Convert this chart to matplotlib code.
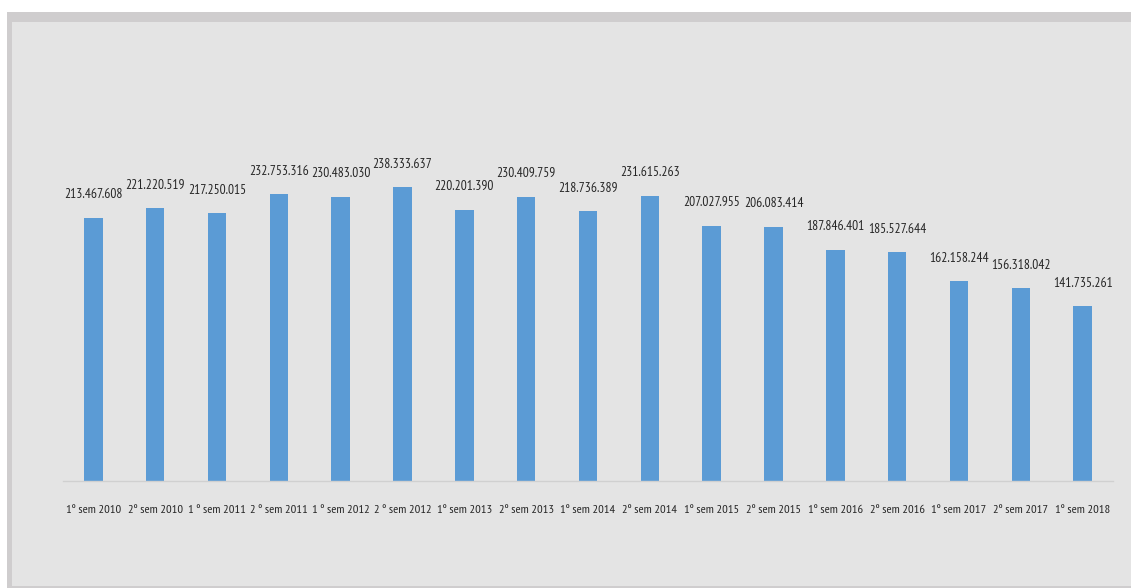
import matplotlib
matplotlib.use('Agg')
import matplotlib.pyplot as plt
from matplotlib import font_manager
from matplotlib.font_manager import FontProperties
from matplotlib.patches import Rectangle
from matplotlib.textpath import TextPath

semesters = ['1º sem 2010', '2º sem 2010', '1 º sem 2011', '2 º sem 2011', '1 º sem 2012',
             '2 º sem 2012', '1º sem 2013', '2º sem 2013', '1º sem 2014', '2º sem 2014',
             '1º sem 2015', '2º sem 2015', '1º sem 2016', '2º sem 2016', '1º sem 2017',
             '2º sem 2017', '1º sem 2018']
values = [213467608, 221220519, 217250015, 232753316, 230483030, 238333637, 220201390,
          230409759, 218736389, 231615263, 207027955, 206083414, 187846401, 185527644,
          162158244, 156318042, 141735261]

# pick a narrow family if one is there, else condensed DejaVu
names = {f.name for f in font_manager.fontManager.ttflist}
fp = FontProperties(family='DejaVu Sans', stretch='condensed')
for cand in ['PT Sans Narrow', 'Roboto Condensed', 'Archivo Narrow', 'Abel']:
    if cand in names:
        fp = FontProperties(family=cand)
        break


def fit_size(text, px):
    w_pt = TextPath((0, 0), text, size=10, prop=fp).get_extents().width
    return 10 * px / (w_pt * 100 / 72)


# value labels ~57 px wide, tick labels so the widest fits between bars
fp_val = fp.copy()
fp_val.set_size(fit_size('213.467.608', 57))
fp_tick = fp.copy()
fp_tick.set_size(fit_size('2 º sem 2012', 56))

W, H = 1131, 588
fig = plt.figure(figsize=(W / 100, H / 100), dpi=100)
fig.patch.set_facecolor('white')

# chart area frame
fig.patches.append(Rectangle((7 / W, 0), 1.0, (H - 12) / H, transform=fig.transFigure,
                             facecolor='#cfcdce', edgecolor='none', zorder=-2))
fig.patches.append(Rectangle((12 / W, 2 / H), 1.0, (H - 24) / H, transform=fig.transFigure,
                             facecolor='#e4e4e4', edgecolor='none', zorder=-1))

ax = fig.add_axes([63 / W, (H - 481) / H, 1050 / W, (481 - 30) / H])
ax.set_facecolor('none')

x = list(range(len(values)))
ax.bar(x, values, width=0.3, color='#5b9bd5', zorder=2)

for xi, v in zip(x, values):
    label = f'{v:,}'.replace(',', '.')
    ax.annotate(label, (xi, v), xytext=(0, 12), textcoords='offset points',
                ha='center', va='bottom', fontproperties=fp_val, color='#262626')

ax.set_xlim(-0.49, len(values) - 0.51)
ax.set_ylim(0, 366e6)
ax.set_xticks(x)
ax.set_xticklabels(semesters, fontproperties=fp_tick, color='#262626')
ax.tick_params(axis='x', length=0, pad=17)
ax.set_yticks([])
for side in ['top', 'left', 'right']:
    ax.spines[side].set_visible(False)
ax.spines['bottom'].set_color('#d0d0d0')
ax.spines['bottom'].set_linewidth(1.0)

fig.savefig('out.png', dpi=100)
